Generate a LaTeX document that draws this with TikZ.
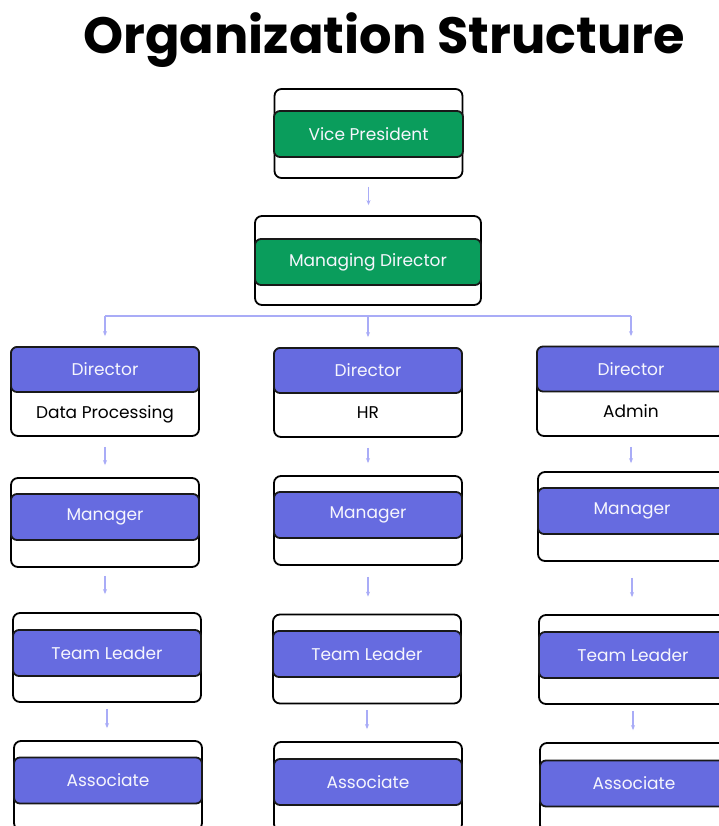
\documentclass[tikz,border=0pt]{standalone}
\usepackage{fontspec}
\setmainfont{Poppins}
\usetikzlibrary{arrows.meta}
\definecolor{orggreen}{HTML}{0A9D5C}
\definecolor{orgblue}{HTML}{666BE0}
\definecolor{orgline}{HTML}{A9ACF7}
\begin{document}
\begin{tikzpicture}[x=1pt,y=-1pt,
  outerbox/.style={draw=black, line width=1.8pt, rounded corners=7pt, minimum width=188pt, minimum height=89pt, inner sep=0pt, fill=white},
  innerbox/.style={draw=black!90, line width=1.8pt, rounded corners=6pt, minimum width=188pt, minimum height=46pt, inner sep=0pt, text=white!94!orgblue, font=\fontsize{17}{20}\selectfont},
  greenbox/.style={innerbox, fill=orggreen},
  bluebox/.style={innerbox, fill=orgblue},
  subtext/.style={font=\fontsize{17}{20}\selectfont, text=black, inner sep=0pt},
  conn/.style={draw=orgline, line width=1.3pt, -{Stealth[length=5pt,width=4pt]}, shorten <=8pt, shorten >=10pt},
  bar/.style={draw=orgline, line width=1.3pt}
]
\useasboundingbox (0,0) rectangle (719,826);
\fill[white] (0,0) rectangle (719,826);
\node[font=\fontsize{51}{60}\selectfont\bfseries, text=black, inner sep=0pt] (title) at (384,40) {Organization Structure};

% Vice President
\node[outerbox] (vp) at (368.5,133.5) {};
\node[greenbox, minimum width=189pt] (vpi) at (368.5,134) {Vice President};
% Managing Director
\node[outerbox, minimum width=226pt] (md) at (368,260.5) {};
\node[greenbox, minimum width=226pt] (mdi) at (368,262) {Managing Director};

% Directors
\node[outerbox] (d1) at (105,391.5) {};
\node[bluebox, minimum height=45pt] (d1h) at (105,369.5) {Director};
\node[subtext] (d1s) at (105,414) {Data Processing};
\node[outerbox] (d2) at (368,392.5) {};
\node[bluebox, minimum height=45pt] (d2h) at (368,370.5) {Director};
\node[subtext] (d2s) at (368,413) {HR};
\node[outerbox] (d3) at (631,391.5) {};
\node[bluebox, minimum height=45pt] (d3h) at (631,369) {Director};
\node[subtext] (d3s) at (631,411) {Admin};

% Managers
\node[outerbox] (m1) at (105,522.5) {};
\node[bluebox] (m1i) at (105,517) {Manager};
\node[outerbox] (m2) at (368,520.5) {};
\node[bluebox] (m2i) at (368,515) {Manager};
\node[outerbox] (m3) at (632,516.5) {};
\node[bluebox] (m3i) at (632,511) {Manager};

% Team leaders
\node[outerbox] (t1) at (107,657.5) {};
\node[bluebox] (t1i) at (107,653) {Team Leader};
\node[outerbox] (t2) at (367,659) {};
\node[bluebox] (t2i) at (367,654) {Team Leader};
\node[outerbox] (t3) at (633,659.5) {};
\node[bluebox] (t3i) at (633,655) {Team Leader};

% Associates
\node[outerbox] (a1) at (108,785.5) {};
\node[bluebox] (a1i) at (108,780.5) {Associate};
\node[outerbox] (a2) at (368,786.5) {};
\node[bluebox] (a2i) at (368,782) {Associate};
\node[outerbox] (a3) at (634,787.5) {};
\node[bluebox] (a3i) at (634,783.5) {Associate};

% connectors
\draw[conn] (vp.south) -- (vp.south |- md.north);
\coordinate (barc) at (368,316);
\draw[bar] (d1.north |- barc) -- (d3.north |- barc);
\draw[conn, shorten <=0pt] (d1.north |- barc) -- (d1.north);
\draw[conn, shorten <=0pt] (d2.north |- barc) -- (d2.north);
\draw[conn, shorten <=0pt] (d3.north |- barc) -- (d3.north);
\draw[conn, shorten <=10pt, shorten >=12pt] (d1.south) -- (d1.south |- m1.north);
\draw[conn, shorten <=10pt, shorten >=12pt] (d2.south) -- (d2.south |- m2.north);
\draw[conn, shorten <=10pt, shorten >=8pt] (d3.south) -- (d3.south |- m3.north);
\draw[conn, shorten <=8pt, shorten >=18pt] (m1.south) -- (m1.south |- t1.north);
\draw[conn, shorten <=11pt, shorten >=17pt] (m2.south) -- (m2.south |- t2.north);
\draw[conn, shorten <=16pt, shorten >=17pt] (m3.south) -- (m3.south |- t3.north);
\draw[conn, shorten <=6pt, shorten >=12pt] (t1.south) -- (t1.south |- a1.north);
\draw[conn, shorten <=6pt, shorten >=12pt] (t2.south) -- (t2.south |- a2.north);
\draw[conn, shorten <=6pt, shorten >=12pt] (t3.south) -- (t3.south |- a3.north);
\end{tikzpicture}
\end{document}
